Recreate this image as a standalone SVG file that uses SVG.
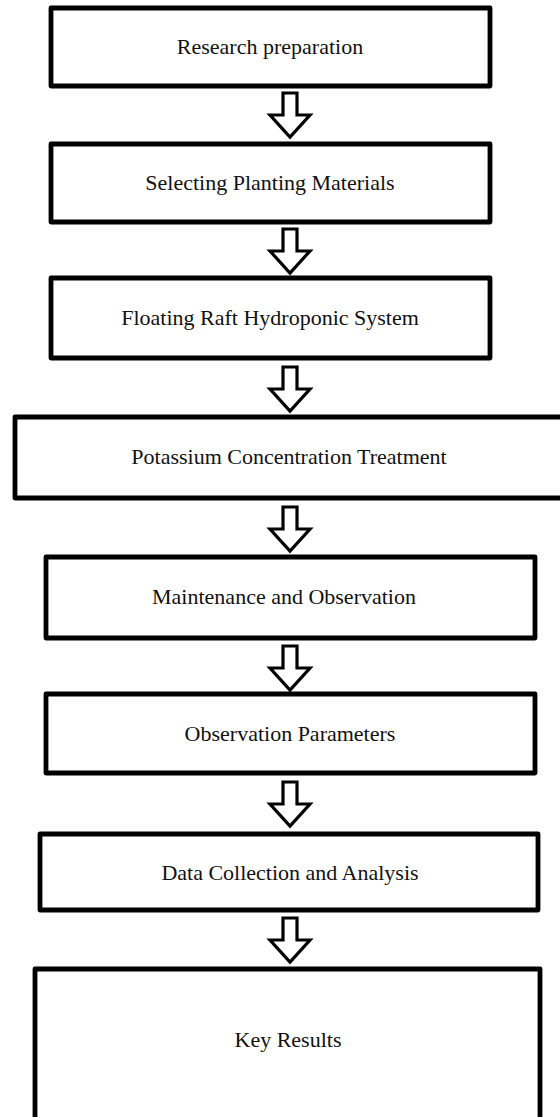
<svg xmlns="http://www.w3.org/2000/svg" width="560" height="1117" viewBox="0 0 560 1117">
<style>
.box{fill:#fff;stroke:#000;stroke-width:4.8;stroke-linejoin:round}
.lbl{font-family:"Liberation Serif","Times New Roman",serif;font-size:22px;fill:#111;text-anchor:middle}
.arr{fill:#fff;stroke:#000;stroke-width:3.2;stroke-linejoin:miter}
</style>
<defs>
<path id="down" d="M-7,0 H7 V22 H20 L0,44 L-20,22 H-7 Z"/>
</defs>
<rect width="560" height="1117" fill="#fff"/>
<g id="connectors">
<use href="#down" class="arr" x="290" y="93"/>
<use href="#down" class="arr" x="290" y="229"/>
<use href="#down" class="arr" x="290" y="367"/>
<use href="#down" class="arr" x="290" y="507"/>
<use href="#down" class="arr" x="290" y="646"/>
<use href="#down" class="arr" x="290" y="782"/>
<use href="#down" class="arr" x="290" y="918"/>
</g>
<g id="n1"><rect class="box" x="51" y="8" width="439" height="78"/><text class="lbl" x="270" y="54">Research preparation</text></g>
<g id="n2"><rect class="box" x="51" y="144" width="439" height="78"/><text class="lbl" x="270" y="190">Selecting Planting Materials</text></g>
<g id="n3"><rect class="box" x="51" y="278" width="439" height="80"/><text class="lbl" x="270" y="325">Floating Raft Hydroponic System</text></g>
<g id="n4"><rect class="box" x="15" y="417" width="550" height="81"/><text class="lbl" x="289" y="464">Potassium Concentration Treatment</text></g>
<g id="n5"><rect class="box" x="46" y="557" width="489" height="81"/><text class="lbl" x="284" y="604">Maintenance and Observation</text></g>
<g id="n6"><rect class="box" x="46" y="694" width="489" height="79"/><text class="lbl" x="290" y="741">Observation Parameters</text></g>
<g id="n7"><rect class="box" x="40" y="834" width="498" height="76"/><text class="lbl" x="290" y="880">Data Collection and Analysis</text></g>
<g id="n8"><rect class="box" x="35" y="969" width="505" height="160"/><text class="lbl" x="288" y="1047">Key Results</text></g>
</svg>
